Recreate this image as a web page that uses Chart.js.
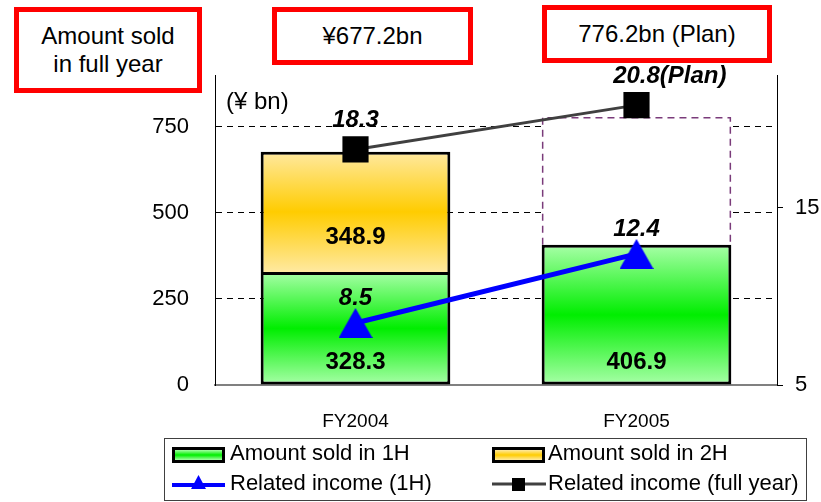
<!DOCTYPE html>
<html>
<head>
<meta charset="utf-8">
<title>Amount sold and related income</title>
<script src="https://cdn.jsdelivr.net/npm/chart.js@4.4.1/dist/chart.umd.min.js"></script>
<style>
  html, body { margin: 0; padding: 0; background: #fff; }
  #wrap { position: relative; width: 821px; height: 502px; font-family: 'Liberation Sans', Arial, sans-serif; }
  #chart { position: absolute; left: 0; top: 0; }
  .tag {
    position: absolute; box-sizing: border-box; border: 5px solid #ff0000; background: #fff;
    color: #000; font-size: 24px; line-height: 28px; text-align: center;
    display: flex; align-items: center; justify-content: center;
  }
</style>
</head>
<body>
<div id="wrap">
  <canvas id="chart" width="821" height="502"></canvas>
  <div class="tag" style="left:14px;top:7px;width:188px;height:86px">Amount sold<br>in full year</div>
  <div class="tag" id="tagFY2004" style="left:272px;top:7px;width:201px;height:58px"></div>
  <div class="tag" id="tagFY2005" style="left:542px;top:5px;width:230px;height:58px"></div>
</div>
<script>
// Data (¥ bn, related income on the right axis)
const categories = ['FY2004', 'FY2005'];
const sold1H = [328.3, 406.9];
const sold2H = [348.9, null];
const soldFullYear = [677.2, 776.2];   // FY2005 is the plan
const income1H = [8.5, 12.4];
const incomeFullYear = [18.3, 20.8];
const isPlan = [false, true];
const amountTicks = [0, 250, 500, 750];
const incomeTicks = [5, 15];

// 2H of the plan year = full-year plan less 1H result
const plan2H = soldFullYear.map((v, i) => isPlan[i] ? +(v - sold1H[i]).toFixed(1) : null);

document.getElementById('tagFY2004').textContent = '¥' + soldFullYear[0].toFixed(1) + 'bn';
document.getElementById('tagFY2005').textContent = soldFullYear[1].toFixed(1) + 'bn (Plan)';

const FONT = "'Liberation Sans', Arial, sans-serif";
Chart.defaults.font.family = FONT;
Chart.defaults.color = '#000';

const GREEN = ['#a8ffa8', '#00ee00'];
const ORANGE = ['#ffe9a0', '#ffcc00'];

function band(ctx, top, bottom, colors) {
  const g = ctx.createLinearGradient(0, top, 0, bottom);
  g.addColorStop(0, colors[0]);
  g.addColorStop(0.5, colors[1]);
  g.addColorStop(1, colors[0]);
  return g;
}

// vertical light-dark-light fill over each stacked segment
function segmentFill(colors, startOf) {
  return (c) => {
    const chart = c.chart;
    if (!chart.chartArea || c.raw == null) return colors[1];
    const y = chart.scales.y;
    const start = startOf(c.dataIndex);
    return band(chart.ctx, y.getPixelForValue(start + c.raw), y.getPixelForValue(start), colors);
  };
}

function triangleMark(w, h, color) {
  const c = document.createElement('canvas');
  c.width = w; c.height = h;
  const g = c.getContext('2d');
  g.fillStyle = color;
  g.beginPath();
  g.moveTo(w / 2, 0); g.lineTo(w, h); g.lineTo(0, h);
  g.closePath();
  g.fill();
  return c;
}

// dashed outline for the plan part of the bar
const planOutline = {
  id: 'planOutline',
  afterDatasetDraw(chart, args) {
    if (args.index !== 2) return;
    const ctx = chart.ctx;
    ctx.save();
    ctx.strokeStyle = '#7a3b7a';
    ctx.lineWidth = 1.5;
    ctx.setLineDash([7, 5]);
    args.meta.data.forEach((bar, i) => {
      if (plan2H[i] == null) return;
      const l = bar.x - bar.width / 2 + 1, r = bar.x + bar.width / 2 - 1;
      ctx.beginPath();
      ctx.moveTo(l, bar.base);
      ctx.lineTo(l, bar.y);
      ctx.lineTo(r, bar.y);
      ctx.lineTo(r, bar.base);
      ctx.stroke();
    });
    ctx.restore();
  }
};

const valueLabels = {
  id: 'valueLabels',
  afterDatasetsDraw(chart) {
    const ctx = chart.ctx;
    ctx.save();
    ctx.fillStyle = '#000';
    ctx.textBaseline = 'middle';
    ctx.font = 'bold 24px ' + FONT;
    ctx.textAlign = 'center';
    [[0, 22], [1, 35]].forEach(([di, lift]) => {
      chart.getDatasetMeta(di).data.forEach((bar, i) => {
        const v = chart.data.datasets[di].data[i];
        if (v == null) return;
        ctx.fillText(v.toFixed(1), bar.x, bar.base - lift);
      });
    });
    ctx.font = 'italic bold 24px ' + FONT;
    [[3, 25], [4, 29]].forEach(([di, lift]) => {
      chart.getDatasetMeta(di).data.forEach((pt, i) => {
        const txt = chart.data.datasets[di].data[i].toFixed(1);
        if (di === 4 && isPlan[i]) {
          ctx.textAlign = 'left';
          ctx.fillText(txt + '(Plan)', pt.x - ctx.measureText(txt).width / 2, pt.y - lift);
          ctx.textAlign = 'center';
        } else {
          ctx.fillText(txt, pt.x, pt.y - lift);
        }
      });
    });
    ctx.restore();
  }
};

// unit caption and the boxed legend under the axis
const extras = {
  id: 'extras',
  afterDraw(chart) {
    const ctx = chart.ctx;
    const ds = chart.data.datasets;
    ctx.save();
    ctx.fillStyle = '#000';
    ctx.textBaseline = 'middle';
    ctx.textAlign = 'left';
    ctx.font = '24px ' + FONT;
    ctx.fillText('(¥ bn)', 226, 102);

    ctx.strokeStyle = '#404040';
    ctx.lineWidth = 1;
    ctx.strokeRect(164.5, 438.5, 642, 62);

    ctx.font = '22px ' + FONT;
    const swatch = (x, colors) => {
      ctx.fillStyle = '#000';
      ctx.fillRect(x, 447, 53, 16);
      ctx.fillStyle = band(ctx, 450, 460, colors);
      ctx.fillRect(x + 3, 450, 47, 10);
    };
    swatch(172, GREEN);
    swatch(492, ORANGE);

    ctx.lineWidth = 4;
    ctx.strokeStyle = '#0000ff';
    ctx.beginPath(); ctx.moveTo(172, 485); ctx.lineTo(225, 485); ctx.stroke();
    ctx.drawImage(triangleMark(15, 14, '#0000ff'), 191, 475);

    ctx.lineWidth = 3;
    ctx.strokeStyle = '#404040';
    ctx.beginPath(); ctx.moveTo(492, 484); ctx.lineTo(546, 484); ctx.stroke();
    ctx.fillStyle = '#000';
    ctx.fillRect(512, 478, 13, 13);

    ctx.fillStyle = '#000';
    ctx.fillText(ds[0].label, 230, 454);
    ctx.fillText(ds[1].label, 548, 454);
    ctx.fillText(ds[3].label, 230, 484);
    ctx.fillText(ds[4].label, 548, 484);
    ctx.restore();
  }
};

const chart = new Chart(document.getElementById('chart'), {
  data: {
    labels: categories,
    datasets: [
      {
        type: 'bar', label: 'Amount sold in 1H', data: sold1H, stack: 'sold', order: 3,
        backgroundColor: segmentFill(GREEN, () => 0),
        borderColor: '#000', borderWidth: 3, borderSkipped: false
      },
      {
        type: 'bar', label: 'Amount sold in 2H', data: sold2H, stack: 'sold', order: 3,
        backgroundColor: segmentFill(ORANGE, i => sold1H[i]),
        borderColor: '#000', borderWidth: 3, borderSkipped: 'start'
      },
      {
        type: 'bar', label: 'Plan 2H', data: plan2H, stack: 'sold', order: 3,
        backgroundColor: '#fff', borderWidth: 0
      },
      {
        type: 'line', label: 'Related income (1H)', data: income1H, yAxisID: 'y2', order: 1,
        borderColor: '#0000ff', borderWidth: 5, backgroundColor: '#0000ff',
        pointStyle: triangleMark(34, 30, '#0000ff')
      },
      {
        type: 'line', label: 'Related income (full year)', data: incomeFullYear, yAxisID: 'y2', order: 1,
        borderColor: '#404040', borderWidth: 3,
        pointStyle: 'rect', pointRadius: 18.5, pointBackgroundColor: '#000', pointBorderWidth: 0
      }
    ]
  },
  options: {
    responsive: false,
    animation: false,
    events: [],
    layout: { padding: { top: 75, left: 0, right: 0, bottom: 0 } },
    datasets: { bar: { categoryPercentage: 1, barPercentage: 0.675 } },
    plugins: { legend: { display: false }, tooltip: { enabled: false } },
    scales: {
      x: {
        stacked: true,
        grid: { display: false },
        border: { display: true, color: '#808080', width: 2 },
        ticks: { font: { size: 19 }, padding: 17 },
        afterFit: s => { s.height = 117; }
      },
      y: {
        stacked: true, position: 'left', min: 0, max: 900,
        afterBuildTicks: s => { s.ticks = amountTicks.map(v => ({ value: v })); },
        grid: { color: c => (c.tick && c.tick.value === 0) ? 'rgba(0,0,0,0)' : '#000', drawTicks: false },
        border: { color: '#000', width: 1, dash: [6, 5] },
        ticks: { font: { size: 22 }, padding: 26 },
        afterFit: s => { s.width = 215; }
      },
      y2: {
        position: 'right', min: 5, max: 22.5,
        afterBuildTicks: s => { s.ticks = incomeTicks.map(v => ({ value: v })); },
        grid: { drawOnChartArea: false, drawTicks: true, tickLength: 6, color: '#000' },
        border: { color: '#000', width: 1 },
        ticks: { font: { size: 22 }, padding: 12 },
        afterFit: s => { s.width = 44; }
      }
    }
  },
  plugins: [planOutline, valueLabels, extras]
});
</script>
</body>
</html>
